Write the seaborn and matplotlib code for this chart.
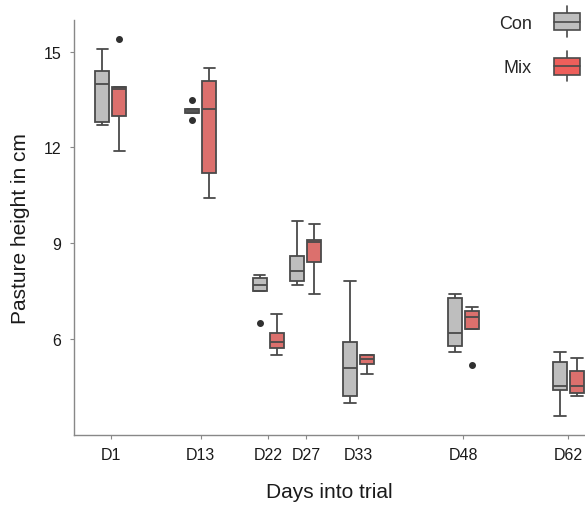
import numpy as np
import pandas as pd
import matplotlib
matplotlib.use("Agg")
import matplotlib.pyplot as plt
import seaborn as sns
from matplotlib.patches import Rectangle
from matplotlib.lines import Line2D
from matplotlib.legend_handler import HandlerBase

# sampling days (x position) and their tick labels
days = [1, 13, 22, 27, 34, 48, 62]
day_labels = ["D1", "D13", "D22", "D27", "D33", "D48", "D62"]
groups = ["Con", "Mix"]

# pasture height (cm) per sampling day
con_values = [
    [12.70, 12.79, 13.99, 14.40, 15.09],
    [12.85, 13.07, 13.14, 13.21, 13.50],
    [6.49, 7.50, 7.70, 7.90, 8.00],
    [7.70, 7.80, 8.12, 8.59, 9.70],
    [4.00, 4.20, 5.09, 5.90, 7.80],
    [5.60, 5.79, 6.19, 7.29, 7.41],
    [3.60, 4.41, 4.51, 5.28, 5.59],
]
mix_values = [
    [11.90, 12.99, 13.83, 13.90, 15.40],
    [10.40, 11.20, 13.21, 14.09, 14.49],
    [5.50, 5.70, 5.90, 6.20, 6.79],
    [7.40, 8.40, 9.05, 9.09, 9.59],
    [4.91, 5.20, 5.375, 5.51, 5.51],
    [5.19, 6.30, 6.70, 6.88, 6.99],
    [4.20, 4.30, 4.51, 4.98, 5.41],
]

rows = []
for g, vals in zip(groups, [con_values, mix_values]):
    for d, v in zip(days, vals):
        for x in v:
            rows.append({"day": d, "group": g, "height": x})
df = pd.DataFrame(rows)

sns.set_theme(style="ticks")
plt.rcParams["font.family"] = ["Liberation Sans", "DejaVu Sans"]

palette = {"Con": "#BEBEBE", "Mix": "#EE5F5B"}
edge = "#4A4A4A"

fig = plt.figure(figsize=(5.85, 5.06), dpi=100)
ax = fig.add_axes([0.1265, 0.139, 0.8735, 0.82])

sns.boxplot(data=df, x="day", y="height", hue="group", native_scale=True,
            palette=palette, width=0.907, gap=0.176, linecolor=edge,
            linewidth=1.3, whis=1.5, ax=ax, legend=False, capwidths=1.5,
            flierprops=dict(marker="o", markerfacecolor="#303030",
                            markeredgecolor="#303030", markersize=4))

ax.set_xlim(-3.9, 64.2)
ax.set_ylim(3.0, 16.0)
ax.set_xticks(days)
ax.set_xticklabels(day_labels)
ax.set_yticks([6, 9, 12, 15])
ax.tick_params(axis="both", labelsize=11.5, length=3, width=0.8,
               color="#888888", labelcolor="#1a1a1a", pad=6)
ax.set_xlabel("Days into trial", fontsize=15, labelpad=14, color="#1a1a1a")
ax.set_ylabel("Pasture height in cm", fontsize=15, labelpad=10, color="#1a1a1a")
sns.despine(ax=ax)
for s in ["left", "bottom"]:
    ax.spines[s].set_color("#888888")
    ax.spines[s].set_linewidth(1.0)


class BoxHandler(HandlerBase):
    def create_artists(self, legend, orig_handle, xdescent, ydescent,
                       width, height, fontsize, trans):
        x0, y0 = -xdescent, -ydescent
        cx = x0 + width / 2
        box = Rectangle((x0, y0), width, height,
                        facecolor=orig_handle.get_facecolor(),
                        edgecolor=edge, lw=1.2, transform=trans)
        med = Line2D([x0, x0 + width], [y0 + height / 2] * 2,
                     color=edge, lw=1.2, transform=trans)
        wt = Line2D([cx, cx], [y0 + height, y0 + height * 1.4],
                    color=edge, lw=1.2, transform=trans)
        wb = Line2D([cx, cx], [y0 - height * 0.4, y0],
                    color=edge, lw=1.2, transform=trans)
        return [wt, wb, box, med]


handles = [Rectangle((0, 0), 1, 1, facecolor=palette[g]) for g in groups]
fig.legend(handles, groups, handler_map={Rectangle: BoxHandler()},
           loc="upper right", bbox_to_anchor=(0.992, 0.972),
           frameon=False, markerfirst=False, fontsize=13,
           handlelength=1.45, handleheight=1.05, labelspacing=1.45,
           handletextpad=1.25, borderaxespad=0, borderpad=0)

fig.savefig("out.png", dpi=100)
